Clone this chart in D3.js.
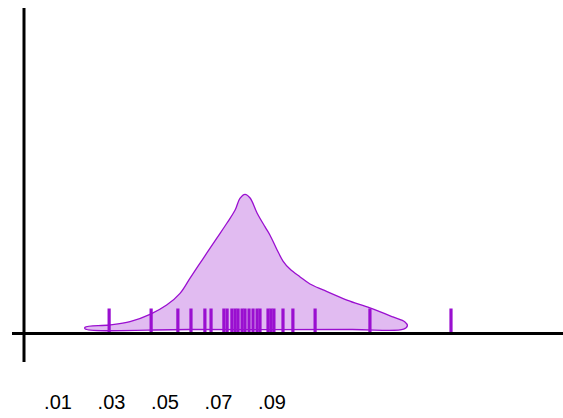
<!DOCTYPE html>
<html lang="en">
<head>
    <meta charset="UTF-8">
    <title>Density with rug</title>
    <script src="https://cdn.jsdelivr.net/npm/d3@7"></script>
    <style>
        body { margin: 0; background: #fff; }
    </style>
</head>
<body>
<svg id="chart" width="563" height="418"></svg>

<script>
    /* global d3*/

    // rug observations
    var rugValues = [0.0293, 0.0450, 0.0550, 0.0599, 0.0651, 0.0674, 0.0722, 0.0734,
        0.0752, 0.0764, 0.0775, 0.0790, 0.0801, 0.0816, 0.0831, 0.0846, 0.0857,
        0.0887, 0.0898, 0.0909, 0.0943, 0.0980, 0.1063, 0.1268, 0.1571];

    // density curve
    var densX = [0.0203, 0.0293, 0.0371, 0.0448, 0.0508, 0.0558, 0.0595, 0.0645, 0.0695,
        0.0733, 0.0764, 0.0782, 0.0801, 0.0820, 0.0846, 0.0876, 0.0894, 0.0921, 0.0943,
        0.0969, 0.1007, 0.1044, 0.1093, 0.1182, 0.1268, 0.1354, 0.1399];
    var densY = [0.14, 0.28, 0.49, 0.96, 1.52, 2.25, 3.18, 4.43, 5.67,
        6.61, 7.43, 8.16, 8.41, 8.18, 7.25, 6.38, 5.88, 4.95, 4.26,
        3.76, 3.27, 2.83, 2.46, 1.83, 1.34, 0.78, 0.47];

    var tickLabels = [0.01, 0.03, 0.05, 0.07, 0.09];

    var svg = d3.select("#chart"),
        purple = "#9a0fd0",
        x = d3.scaleLinear().domain([0.01, 0.09]).range([57.5, 271.5]),
        y = d3.scaleLinear().domain([0, 20]).range([329.5, 8]);

    // closed outline: along the top, round the tip, back along the bottom
    var pts = densX.map(function (d, i) { return [d, densY[i]]; });
    pts.push([0.1408, 0.24]);
    pts.push([0.1394, 0.02]);
    pts.push([0.120, 0]);
    pts.push([0.060, 0]);
    pts.push([0.0203, 0.04]);

    var outline = d3.line()
        .x(function (d) { return x(d[0]); })
        .y(function (d) { return y(d[1]); })
        .curve(d3.curveCatmullRomClosed.alpha(0.5));

    svg.append("path")
        .attr("d", outline(pts))
        .attr("fill", "#e1bbf1")
        .attr("stroke", purple)
        .attr("stroke-width", 1.3);

    // rug
    svg.append("g")
        .selectAll("line")
        .data(rugValues)
        .enter().append("line")
        .attr("x1", function (d) { return x(d); })
        .attr("x2", function (d) { return x(d); })
        .attr("y1", 308.5)
        .attr("y2", 332.5)
        .attr("stroke", purple)
        .attr("stroke-width", 3.2);

    // axes lines
    svg.append("line")
        .attr("x1", 24).attr("x2", 24)
        .attr("y1", 8).attr("y2", 362)
        .attr("stroke", "#000").attr("stroke-width", 3);

    svg.append("line")
        .attr("x1", 12).attr("x2", 563)
        .attr("y1", 333.5).attr("y2", 333.5)
        .attr("stroke", "#000").attr("stroke-width", 3);

    // tick labels
    var axis = d3.axisBottom(x)
        .tickValues(tickLabels)
        .tickSize(0)
        .tickPadding(0)
        .tickFormat(function (d) { return d3.format(".2f")(d).replace(/^0/, ""); });

    var gx = svg.append("g")
        .attr("transform", "translate(0,395)")
        .call(axis);
    gx.select(".domain").remove();
    gx.selectAll("text")
        .attr("dy", "0.71em")
        .attr("fill", "#000")
        .style("font-family", "Arial, 'Liberation Sans', sans-serif")
        .style("font-size", "20px");
</script>
</body>
</html>
